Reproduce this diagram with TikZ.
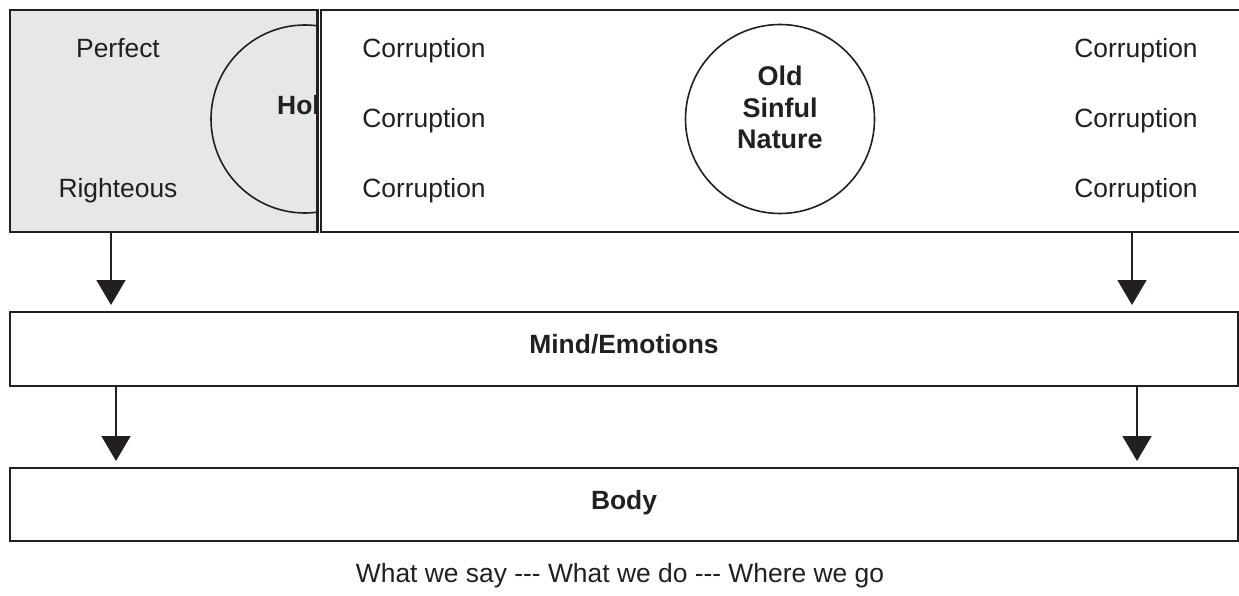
\documentclass[tikz,border=0pt]{standalone}
\usepackage{fontspec}
\setmainfont{Liberation Sans}
\usetikzlibrary{arrows.meta}
\definecolor{ink}{HTML}{231F20}
\definecolor{panel}{HTML}{E6E7E8}
\begin{document}
\begin{tikzpicture}[x=1pt,y=-1pt,
  box/.style={draw=ink,line width=2pt},
  lbl/.style={text=ink,font=\fontsize{26.4}{30}\selectfont,inner sep=0pt,anchor=base},
  blbl/.style={lbl,font=\fontsize{26.4}{30}\selectfont\bfseries},
  flow/.style={draw=ink,line width=1.6pt,-{Triangle[width=29pt,length=25pt]}}]
\useasboundingbox (0,0) rectangle (1239,596);
% top panels
\node[box,fill=panel,minimum width=308pt,minimum height=222pt,anchor=north west,inner sep=0pt] (spirit) at (9,9) {};
\node[box,fill=white,minimum width=940pt,minimum height=222pt,anchor=north west,inner sep=0pt] (flesh) at (320,9) {};
% Holy circle clipped by the panel
\begin{scope}
  \clip (9,9) rectangle (317,231);
  \node[draw=ink,line width=1.6pt,circle,minimum size=188pt,inner sep=0pt] (holyc) at (305,119) {};
  \node[blbl,anchor=base west] (holy) at (277,115) {Holy};
\end{scope}
\draw[ink,line width=2pt] (317,9) -- (317,231);
\node[lbl] (perfect) at (118,58) {Perfect};
\node[lbl] (righteous) at (118,197) {Righteous};
% Old sinful nature
\node[draw=ink,line width=1.6pt,circle,minimum size=189pt,inner sep=0pt,fill=white] (oldc) at (780,119) {};
\node[blbl,font=\fontsize{27}{30}\selectfont\bfseries] (old1) at (780,86) {Old};
\node[blbl,font=\fontsize{27}{30}\selectfont\bfseries] (old2) at (780,118) {Sinful};
\node[blbl,font=\fontsize{27}{30}\selectfont\bfseries] (old3) at (780,149) {Nature};
% corruption labels
\node[lbl] (c1) at (424,58) {Corruption};
\node[lbl] (c2) at (424,128) {Corruption};
\node[lbl] (c3) at (424,197) {Corruption};
\node[lbl] (c4) at (1136,58) {Corruption};
\node[lbl] (c5) at (1136,128) {Corruption};
\node[lbl] (c6) at (1136,197) {Corruption};
% lower boxes
\node[box,fill=white,minimum width=1228pt,minimum height=74pt,anchor=north west,inner sep=0pt] (mind) at (9,311) {};
\node[blbl] (mindt) at (624,353) {Mind/Emotions};
\node[box,fill=white,minimum width=1228pt,minimum height=73pt,anchor=north west,inner sep=0pt] (body) at (9,467) {};
\node[blbl] (bodyt) at (624,509) {Body};
\node[lbl] (deeds) at (620,582) {What we say -{}-{}- What we do -{}-{}- Where we go};
% arrows
\coordinate (a1s) at (111,232); \coordinate (a1e) at (111,305);
\coordinate (a2s) at (1132,232); \coordinate (a2e) at (1132,305);
\coordinate (a3s) at (116,387); \coordinate (a3e) at (116,461);
\coordinate (a4s) at (1137,387); \coordinate (a4e) at (1137,461);
\draw[flow] (a1s) -- (a1e);
\draw[flow] (a2s) -- (a2e);
\draw[flow] (a3s) -- (a3e);
\draw[flow] (a4s) -- (a4e);
\end{tikzpicture}
\end{document}
